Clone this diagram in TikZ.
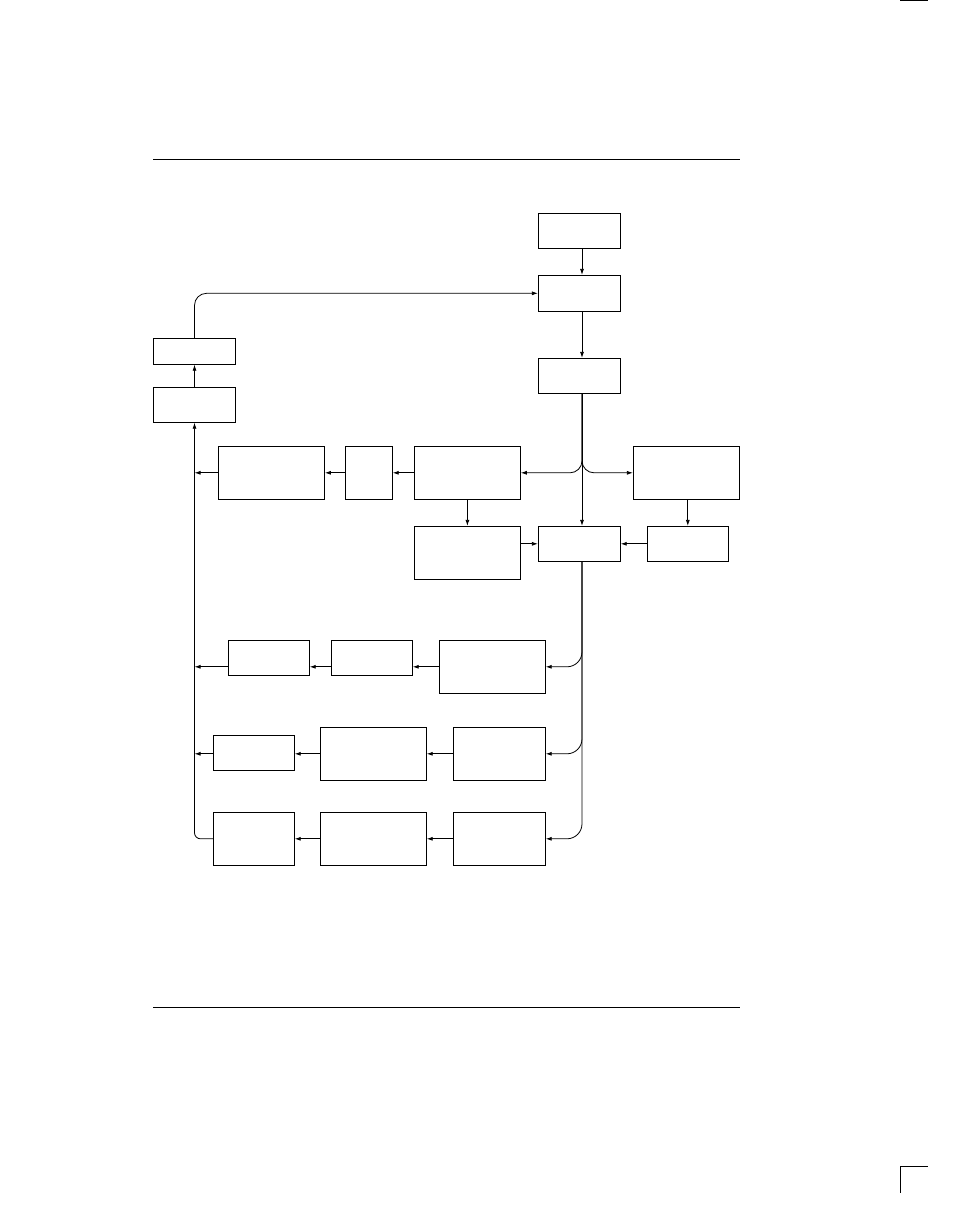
\documentclass[tikz,border=0pt]{standalone}
\usetikzlibrary{arrows.meta}

\begin{document}
\begin{tikzpicture}[x=1pt,y=-1pt,line width=0.8pt,
  box/.style={draw,rectangle,inner sep=0pt},
  arr/.style={-{Latex[length=6pt,width=4pt]}}]
\useasboundingbox (0,0) rectangle (954,1219);
% Page marks
\draw[line width=1.4pt] (900,0.7) -- (927.7,0.7);
\draw (900,1192.7) -- (900,1166) -- (927.7,1166);
\draw (153,159) -- (740,159);
\draw (153,1007) -- (740,1007);
% Spine of the main column
\coordinate (spine) at (582,0);
% Main column
\node[box,minimum width=82,minimum height=35] (start) at (579.3,230.8) {};
\node[box,minimum width=82,minimum height=36] (merge) at (579.3,293.3) {};
\node[box,minimum width=82,minimum height=35] (split) at (579.3,375.8) {};
\node[box,minimum width=82,minimum height=35] (collect) at (579.3,543.8) {};
% Feedback boxes on the left
\node[box,minimum width=82,minimum height=26] (back) at (194.5,351.3) {};
\node[box,minimum width=82,minimum height=35] (join) at (194.5,404.8) {};
% Upper branches
\node[box,minimum width=106,minimum height=53] (left1) at (271.5,472.8) {};
\node[box,minimum width=47,minimum height=53] (left2) at (368.8,472.8) {};
\node[box,minimum width=106,minimum height=53] (left3) at (467.4,472.8) {};
\node[box,minimum width=106,minimum height=53] (lower3) at (467.4,552.8) {};
\node[box,minimum width=106,minimum height=53] (right1) at (686.3,472.8) {};
\node[box,minimum width=81,minimum height=35] (right2) at (687.8,543.8) {};
% First row
\node[box,minimum width=81,minimum height=35] (rowa1) at (268.8,657.8) {};
\node[box,minimum width=81,minimum height=35] (rowa2) at (371.8,657.8) {};
\node[box,minimum width=106,minimum height=53] (rowa3) at (492.3,666.8) {};
% Second row
\node[box,minimum width=81,minimum height=35] (rowb1) at (253.8,752.8) {};
\node[box,minimum width=106,minimum height=53] (rowb2) at (373.3,753.8) {};
\node[box,minimum width=92,minimum height=53] (rowb3) at (499.3,753.8) {};
% Third row
\node[box,minimum width=81,minimum height=53] (rowc1) at (253.8,838.8) {};
\node[box,minimum width=106,minimum height=53] (rowc2) at (373.3,838.8) {};
\node[box,minimum width=92,minimum height=53] (rowc3) at (499.3,838.8) {};
% Main column arrows
\draw[arr] (start.south -| spine) -- (merge.north -| spine);
\draw[arr] (merge.south -| spine) -- (split.north -| spine);
\draw[arr] (split.south -| spine) -- (collect.north -| spine);
\draw[arr,rounded corners=12pt] (split.south -| spine) |- (left3.east);
\draw[arr,rounded corners=12pt] (split.south -| spine) |- (right1.west);
% Upper branch arrows
\draw[arr] (left3.west) -- (left2.east);
\draw[arr] (left2.west) -- (left1.east);
\draw[arr] (left1.west) -- (left1.west -| join.south);
\draw[arr] (left3.south) -- (lower3.north);
\draw[arr] (collect.west -| lower3.east) -- (collect.west);
\draw[arr] (right1.south -| right2.north) -- (right2.north);
\draw[arr] (right2.west) -- (collect.east);
% Rows fed from the collector
\draw[arr,rounded corners=15pt] (collect.south -| spine) |- (rowa3.east);
\draw[arr,rounded corners=15pt] (collect.south -| spine) |- (rowb3.east);
\draw[arr,rounded corners=15pt] (collect.south -| spine) |- (rowc3.east);
\draw[arr] (rowa3.west) -- (rowa3.west -| rowa2.east);
\draw[arr] (rowa3.west -| rowa2.west) -- (rowa3.west -| rowa1.east);
\draw[arr] (rowa3.west -| rowa1.west) -- (rowa3.west -| join.south);
\draw[arr] (rowb3.west) -- (rowb2.east);
\draw[arr] (rowb3.west -| rowb2.west) -- (rowb3.west -| rowb1.east);
\draw[arr] (rowb3.west -| rowb1.west) -- (rowb3.west -| join.south);
\draw[arr] (rowc3.west) -- (rowc2.east);
\draw[arr] (rowc2.west) -- (rowc1.east);
% Return trunk and feedback
\draw[arr,rounded corners=6pt] (rowc1.west) -| (join.south);
\draw[arr] (join.north) -- (back.south);
\draw[arr,rounded corners=12pt] (back.north) |- (merge.west);
\end{tikzpicture}
\end{document}
